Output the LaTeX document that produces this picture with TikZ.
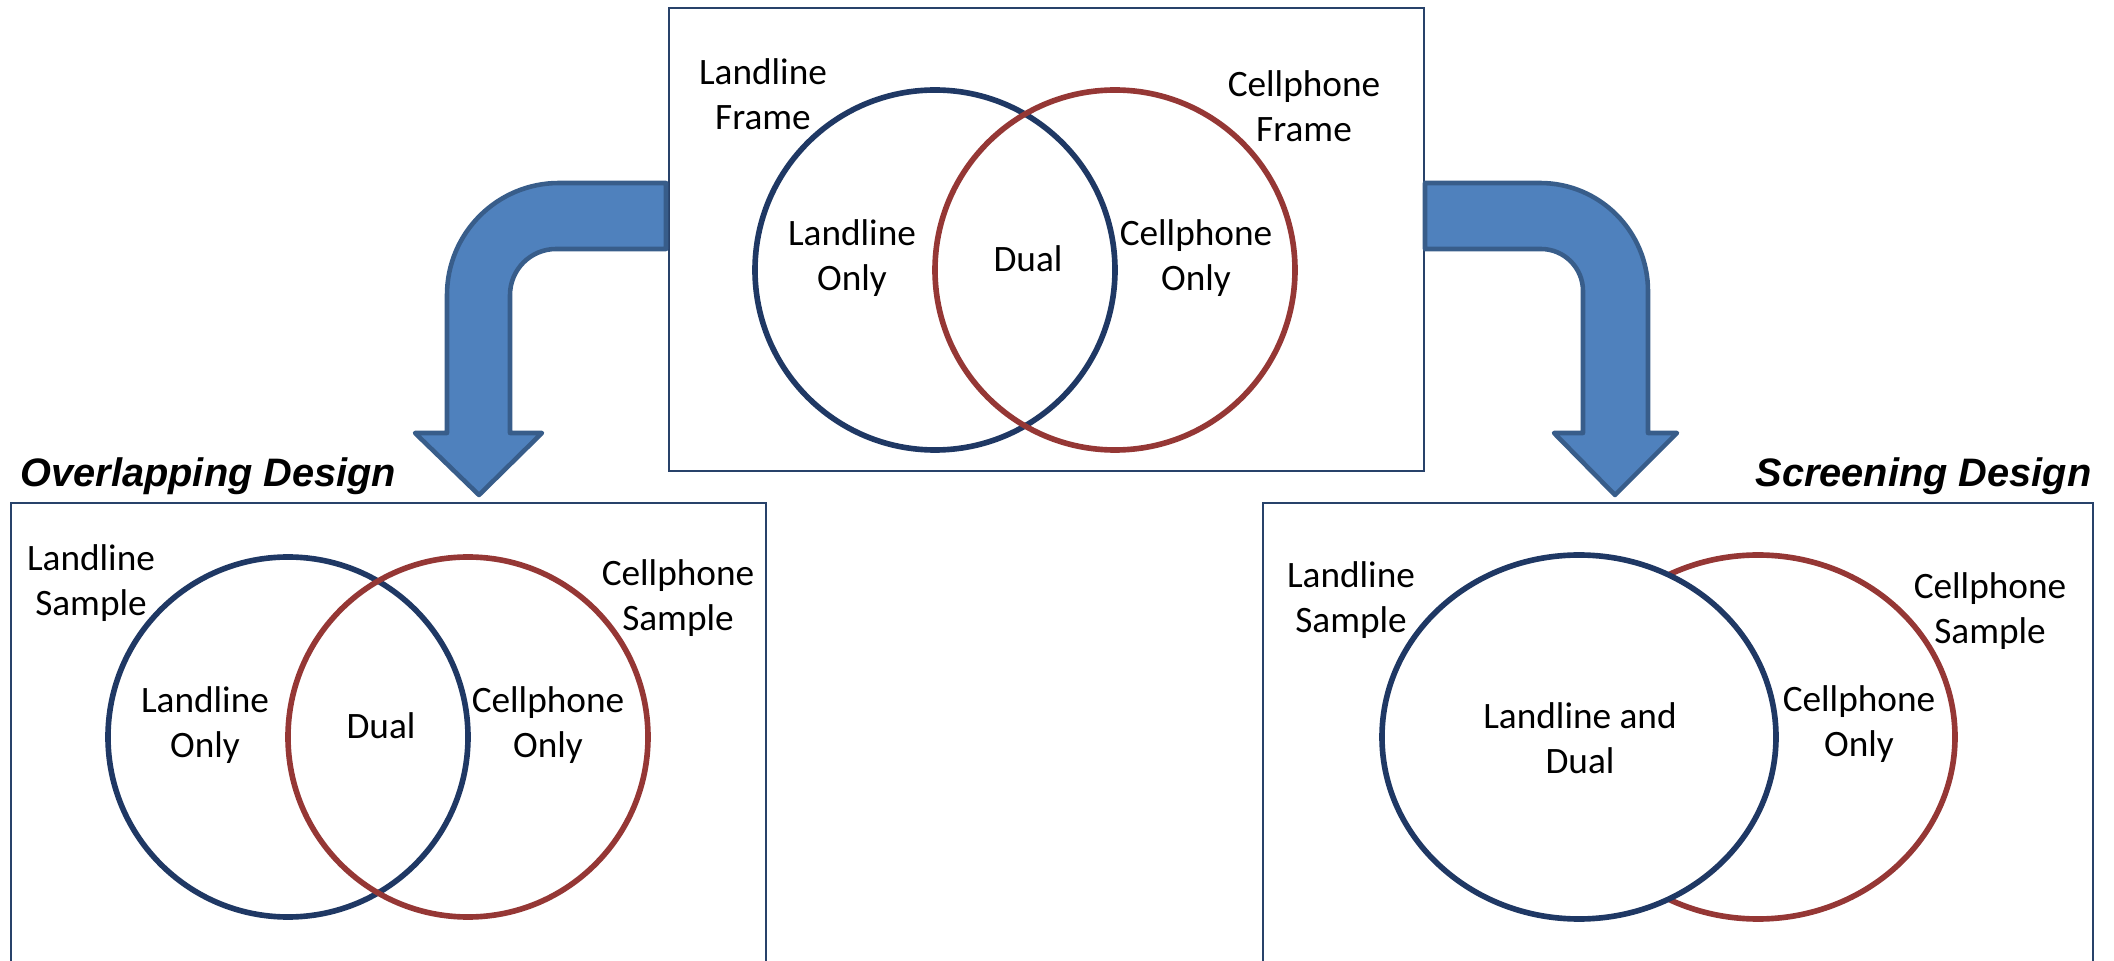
\documentclass[tikz,border=0pt]{standalone}
\usepackage{fontspec}
\setmainfont{Carlito}
\newfontfamily\headfont{Liberation Sans}
\usetikzlibrary{positioning}
\definecolor{landBlue}{RGB}{31,56,100}
\definecolor{cellRed}{RGB}{149,55,53}
\definecolor{arrowFill}{RGB}{79,129,189}
\definecolor{arrowEdge}{RGB}{56,93,138}
\definecolor{panelEdge}{RGB}{40,66,106}

\begin{document}
\begin{tikzpicture}[x=0.01cm,y=0.01cm,font=\fontsize{10.6}{12.9}\selectfont,
    lbl/.style={align=center,inner sep=0pt},
    panel/.style={panelEdge,line width=0.6pt},
    landring/.style={landBlue,line width=1.6pt},
    cellring/.style={cellRed,line width=1.6pt},
    bentarrow/.style={fill=arrowFill,draw=arrowEdge,line width=1.3pt,line join=round},
    heading/.style={font=\headfont\fontsize{11.3}{14}\selectfont\bfseries\itshape,inner sep=0pt}]
    \useasboundingbox (0,0) rectangle (2114,-961);

    % panels
    \draw[panel] (669,-8) rectangle (1424,-471);
    \draw[panel] (11,-961) |- (766,-503) -- (766,-961);
    \draw[panel] (1263,-961) |- (2093,-503) -- (2093,-961);

    % frames on top
    \draw[landring] (935,-270) circle[radius=180];
    \draw[cellring] (1115,-270) circle[radius=180];

    % overlapping design
    \draw[landring] (288,-737) circle[radius=180];
    \draw[cellring] (468,-737) circle[radius=180];

    % screening design
    \draw[cellring] (1758,-737) ellipse[x radius=197,y radius=182];
    \draw[landring,fill=white] (1579,-737) ellipse[x radius=197,y radius=182];

    % bent arrows
    \draw[bentarrow] (666,-183) -- (559,-183) arc[start angle=90,end angle=180,radius=112]
      -- (447,-433) -- (415,-433) -- (479,-495) -- (542,-433) -- (510,-433)
      -- (510,-295) arc[start angle=180,end angle=90,radius=46] -- (666,-249) -- cycle;
    \draw[bentarrow] (1425,-183) -- (1540,-183) arc[start angle=90,end angle=0,radius=108]
      -- (1648,-433) -- (1677,-433) -- (1615,-495) -- (1554,-433) -- (1583,-433)
      -- (1583,-291) arc[start angle=0,end angle=90,radius=42] -- (1425,-249) -- cycle;

    % headings
    \node[heading,anchor=base west] (overlapTitle) at (20,-487) {Overlapping Design};
    \node[heading,anchor=base east] (screenTitle) at (2092,-487) {Screening Design};

    % labels
    \foreach \nm/\x/\y/\txt in {
      landFrame/763/94/{Landline\\Frame},
      cellFrame/1304/106/{Cellphone\\Frame},
      landOnlyF/852/258/{Landline\\Only},
      dualF/1028/259/{Dual},
      cellOnlyF/1196/258/{Cellphone\\Only},
      landSampO/91/583/{Landline\\Sample},
      cellSampO/678/598/{Cellphone\\Sample},
      landOnlyO/205/725/{Landline\\Only},
      dualO/381/726/{Dual},
      cellOnlyO/548/725/{Cellphone\\Only},
      landSampS/1351/600/{Landline\\Sample},
      cellSampS/1990/611/{Cellphone\\Sample},
      landDualS/1580/738/{Landline and\\Dual},
      cellOnlyS/1859/724/{Cellphone\\Only}} {
        \node[lbl] (\nm) at (\x,-\y) {\txt};
    }
\end{tikzpicture}
\end{document}
